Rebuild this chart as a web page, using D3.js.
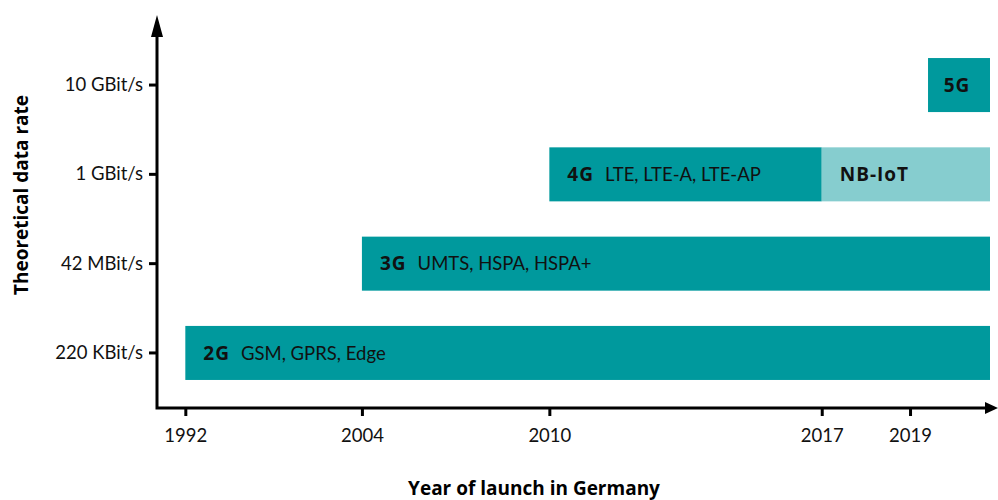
<!DOCTYPE html>
<html>
<head>
<meta charset="utf-8">
<script src="https://cdn.jsdelivr.net/npm/d3@7"></script>
<style>
	body { margin: 0; background: #fff; }
	svg { display: block; font-family: Lato, "Open Sans", sans-serif; }
	.bold { font-family: "Open Sans", Lato, sans-serif; font-weight: bold; }
</style>
</head>
<body>
<svg id="chart" width="998" height="500"></svg>
<script>
// data rate levels, bottom to top
var	rates		= ["220 KBit/s", "42 MBit/s", "1 GBit/s", "10 GBit/s"],
	yearTicks	= [1992, 2004, 2010, 2017, 2019],
	lastYear	= 2021,
	genNames	= ["2G", "3G", "4G", "NB-IoT", "5G"],
	genTech		= ["GSM, GPRS, Edge", "UMTS, HSPA, HSPA+", "LTE, LTE-A, LTE-AP", "", ""],
	genRate		= ["220 KBit/s", "42 MBit/s", "1 GBit/s", "1 GBit/s", "10 GBit/s"],
	genStart	= [1992, 2004, 2010, 2017, 2019.45],
	genEnd		= [2021, 2021, 2017, 2021, 2021],
	genShade	= ["dark", "dark", "dark", "light", "dark"];

var	svg	= d3.select("#chart"),
	pLeft	= 157, pRight = 990, pTop = 30, pBottom = 408,
	colors	= {dark: "#00999d", light: "#86cdcf"},
	// the year axis is schematic: each marked year gets its own spot
	xFrac	= [0.034, 0.246, 0.471, 0.798, 0.904, 1],
	x	= d3.scaleLinear()
			.domain(yearTicks.concat([lastYear]))
			.range(xFrac.map(function(f) { return pLeft + f*(pRight-pLeft); })),
	y	= d3.scaleBand().domain(rates).range([pBottom, pTop])
			.paddingInner(0.395).paddingOuter(0.314);

var	bars	= genNames.map(function(n, i) {
		return {name: n, tech: genTech[i], rate: genRate[i], start: genStart[i], end: genEnd[i], shade: genShade[i]};
	});

var	g = svg.append("g");
g.selectAll("rect.bar").data(bars).enter().append("rect").attr("class", "bar")
	.attr("x", function(d) { return x(d.start); })
	.attr("y", function(d) { return y(d.rate); })
	.attr("width", function(d) { return x(d.end) - x(d.start); })
	.attr("height", y.bandwidth())
	.attr("fill", function(d) { return colors[d.shade]; });

var	labels = g.selectAll("text.lbl").data(bars).enter().append("text").attr("class", "lbl")
	.attr("x", function(d) { return d.name=="5G" ? (x(d.start)+x(d.end))/2 - 2 : x(d.start) + 18; })
	.attr("y", function(d) { return y(d.rate) + y.bandwidth()/2; })
	.attr("dy", "0.36em")
	.attr("text-anchor", function(d) { return d.name=="5G" ? "middle" : "start"; })
	.style("font-size", "18.5px").attr("fill", "#111");
labels.append("tspan").attr("class", "bold").style("font-size", "19px").style("letter-spacing", "1px")
	.text(function(d) { return d.name; });
labels.append("tspan").attr("dx", 11).text(function(d) { return d.tech; });

// axes
var	xAxis	= d3.axisBottom(x).tickValues(yearTicks).tickSize(8).tickPadding(13).tickFormat(d3.format("d")),
	yAxis	= d3.axisLeft(y).tickSize(8).tickPadding(6);
var	gx = svg.append("g").attr("transform", "translate(0," + pBottom + ")").call(xAxis),
	gy = svg.append("g").attr("transform", "translate(" + pLeft + ",0)").call(yAxis);
[gx, gy].forEach(function(a) {
	a.select(".domain").remove();
	a.selectAll(".tick line").attr("stroke", "#000").attr("stroke-width", 3);
	a.selectAll(".tick text").attr("fill", "#111").style("font-size", "18.5px").style("font-family", "Lato, sans-serif");
});

svg.append("path").attr("d", "M" + pLeft + "," + (pBottom+1.5) + "V36M" + (pLeft-1.5) + "," + pBottom + "H985")
	.attr("stroke", "#000").attr("stroke-width", 3).attr("fill", "none");
svg.append("path").attr("d", "M" + pLeft + ",15L" + (pLeft-6) + ",37L" + (pLeft+6) + ",37Z").attr("fill", "#000");
svg.append("path").attr("d", "M998," + pBottom + "L985," + (pBottom-6) + "L985," + (pBottom+6) + "Z").attr("fill", "#000");

svg.append("text").attr("class", "bold").attr("transform", "translate(28,195) rotate(-90)").attr("text-anchor", "middle")
	.style("font-size", "19px").text("Theoretical data rate");
svg.append("text").attr("class", "bold").attr("x", 534).attr("y", 495).attr("text-anchor", "middle")
	.style("font-size", "19px").text("Year of launch in Germany");
</script>
</body>
</html>
